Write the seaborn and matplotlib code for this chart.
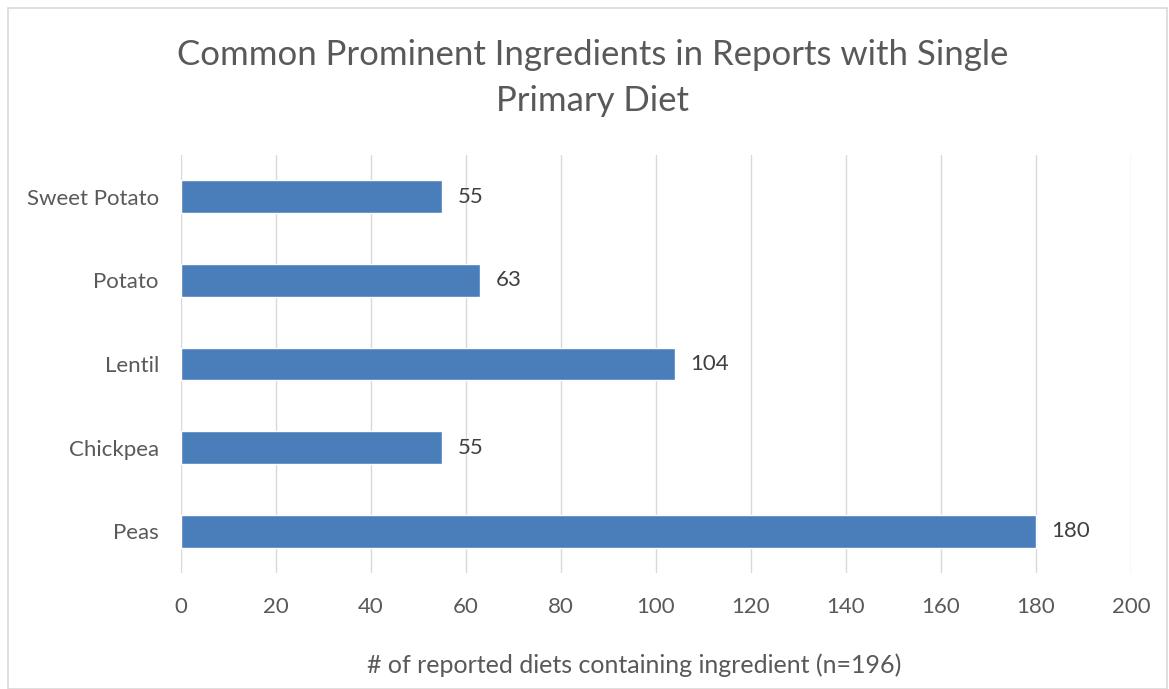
import matplotlib
matplotlib.use("Agg")
import matplotlib.pyplot as plt
import seaborn as sns
import pandas as pd
from matplotlib.patches import Rectangle

ingredients = ["Sweet Potato", "Potato", "Lentil", "Chickpea", "Peas"]
counts = [55, 63, 104, 55, 180]
x_ticks = [0, 20, 40, 60, 80, 100, 120, 140, 160, 180, 200]
title = "Common Prominent Ingredients in Reports with Single\nPrimary Diet"
xlabel = "# of reported diets containing ingredient (n=196)"

sns.set_theme(style="white")
plt.rcParams['font.family'] = ['Lato', 'DejaVu Sans']

df = pd.DataFrame({"ingredient": ingredients, "count": counts})

fig = plt.figure(figsize=(11.69, 6.89), dpi=100)
ax = fig.add_axes([181/1169, 1-573/689, (1131-181)/1169, (573-155)/689])

sns.barplot(data=df, x="count", y="ingredient", order=ingredients, orient="h",
            color="#4A7EBB", saturation=1, width=0.39, ax=ax, zorder=3)

text_c = "#595959"
ax.set_xlim(0, 200)
ax.set_xticks(x_ticks)
ax.set_xticklabels([str(t) for t in x_ticks], color=text_c, fontsize=16)
ax.tick_params(axis="y", labelsize=16, labelcolor=text_c, length=0, pad=16)
ax.tick_params(axis="x", length=0, pad=17)
ax.grid(axis="x", color="#D9D9D9", linewidth=1, zorder=0)
ax.set_axisbelow(True)
for s in ax.spines.values():
    s.set_visible(False)
ax.set_ylabel("")
ax.set_xlabel(xlabel, color=text_c, fontsize=18)
ax.xaxis.set_label_coords((634 - 181) / 950, -(665 - 573) / 418)
ax.xaxis.label.set_va("center")

for container in ax.containers:
    ax.bar_label(container, labels=[str(v) for v in counts], padding=11,
                 color="#404040", fontsize=16)

fig.text(593/1169, 1-78/689, title, ha="center", va="center", fontsize=25,
         color=text_c, linespacing=1.55)

fig.patches.append(Rectangle((8/1169, 0), 1 - 8/1169 - 0.002, 1 - 8/689, transform=fig.transFigure,
                             fill=False, edgecolor="#D9D9D9", linewidth=1.2))

fig.savefig("out.png", dpi=100)
